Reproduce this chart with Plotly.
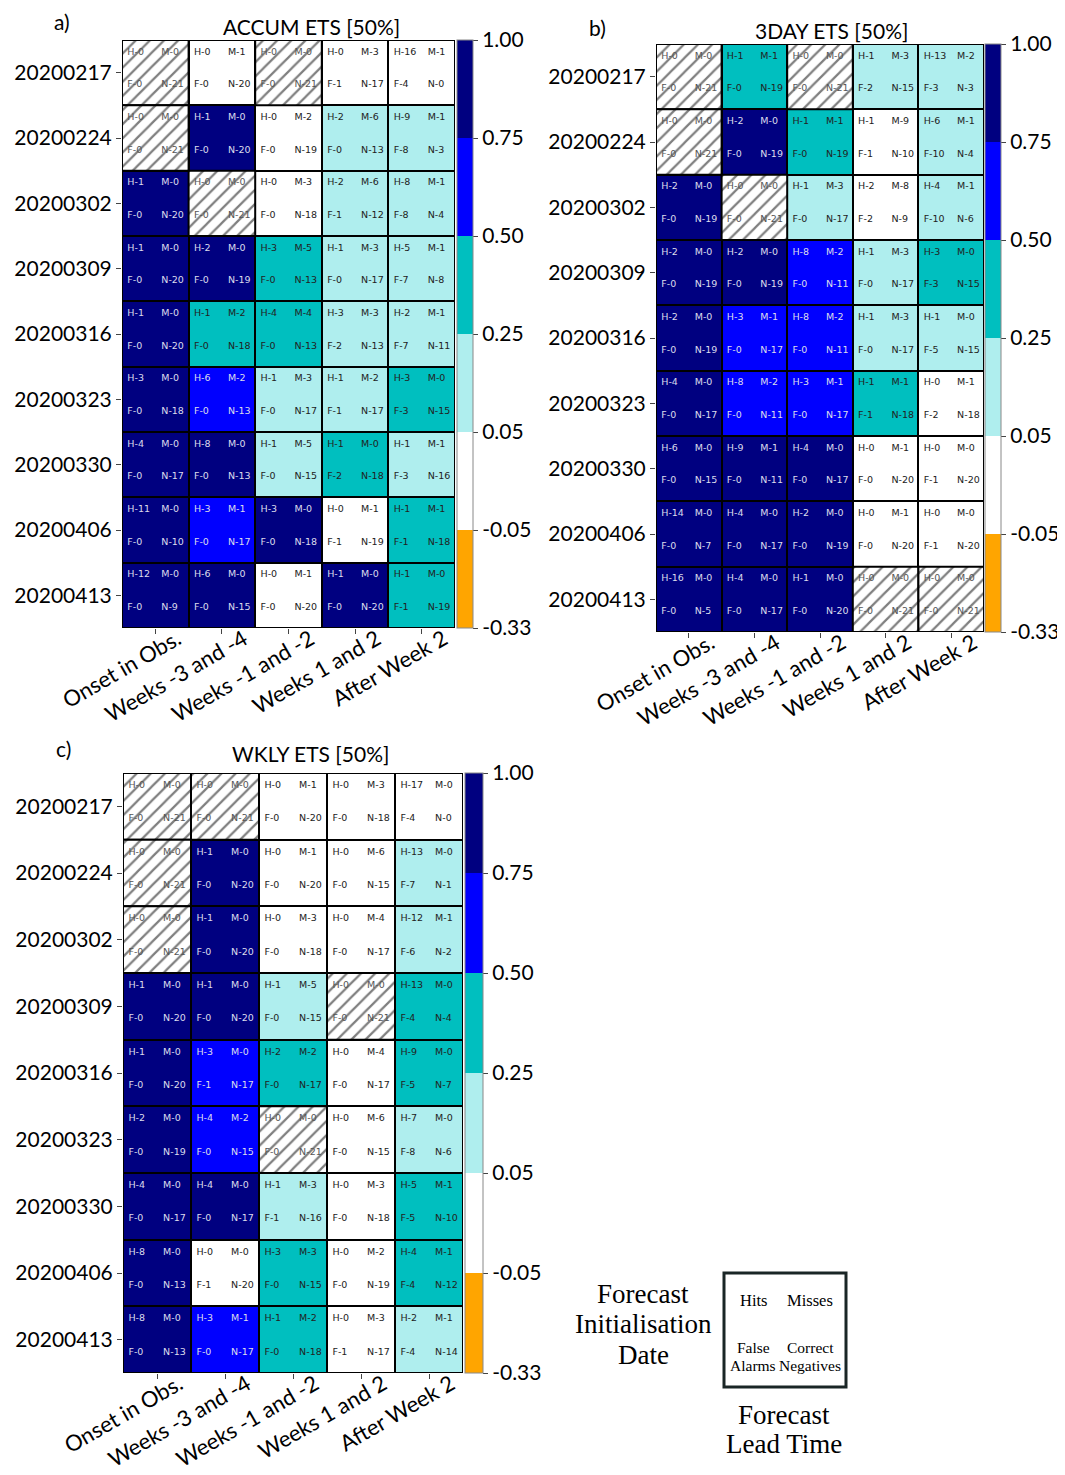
import numpy as np
import plotly.graph_objects as go

# ---------------- data ----------------
dates = ["20200217", "20200224", "20200302", "20200309", "20200316",
         "20200323", "20200330", "20200406", "20200413"]
lead_times = ["Onset in Obs.", "Weeks -3 and -4", "Weeks -1 and -2",
              "Weeks 1 and 2", "After Week 2"]
panel_titles = ["ACCUM ETS [50%]", "3DAY ETS [50%]", "WKLY ETS [50%]"]
panel_letters = ["a)", "b)", "c)"]
ets_bounds = [-0.33, -0.05, 0.05, 0.25, 0.50, 0.75, 1.00]
ets_colors = ["#ffa500", "#ffffff", "#afeeee", "#00bfbf", "#0000ff", "#000080"]

accum_hits = [[0, 0, 0, 0, 16], [0, 1, 0, 2, 9], [1, 0, 0, 2, 8], [1, 2, 3, 1, 5],
              [1, 1, 4, 3, 2], [3, 6, 1, 1, 3], [4, 8, 1, 1, 1], [11, 3, 3, 0, 1],
              [12, 6, 0, 1, 1]]
accum_misses = [[0, 1, 0, 3, 1], [0, 0, 2, 6, 1], [0, 0, 3, 6, 1], [0, 0, 5, 3, 1],
                [0, 2, 4, 3, 1], [0, 2, 3, 2, 0], [0, 0, 5, 0, 1], [0, 1, 0, 1, 1],
                [0, 0, 1, 0, 0]]
accum_false = [[0, 0, 0, 1, 4], [0, 0, 0, 0, 8], [0, 0, 0, 1, 8], [0, 0, 0, 0, 7],
               [0, 0, 0, 2, 7], [0, 0, 0, 1, 3], [0, 0, 0, 2, 3], [0, 0, 0, 1, 1],
               [0, 0, 0, 0, 1]]
accum_neg = [[21, 20, 21, 17, 0], [21, 20, 19, 13, 3], [20, 21, 18, 12, 4],
             [20, 19, 13, 17, 8], [20, 18, 13, 13, 11], [18, 13, 17, 17, 15],
             [17, 13, 15, 18, 16], [10, 17, 18, 19, 18], [9, 15, 20, 20, 19]]

threeday_hits = [[0, 1, 0, 1, 13], [0, 2, 1, 1, 6], [2, 0, 1, 2, 4], [2, 2, 8, 1, 3],
                 [2, 3, 8, 1, 1], [4, 8, 3, 1, 0], [6, 9, 4, 0, 0], [14, 4, 2, 0, 0],
                 [16, 4, 1, 0, 0]]
threeday_misses = [[0, 1, 0, 3, 2], [0, 0, 1, 9, 1], [0, 0, 3, 8, 1], [0, 0, 2, 3, 0],
                   [0, 1, 2, 3, 0], [0, 2, 1, 1, 1], [0, 1, 0, 1, 0], [0, 0, 0, 1, 0],
                   [0, 0, 0, 0, 0]]
threeday_false = [[0, 0, 0, 2, 3], [0, 0, 0, 1, 10], [0, 0, 0, 2, 10], [0, 0, 0, 0, 3],
                  [0, 0, 0, 0, 5], [0, 0, 0, 1, 2], [0, 0, 0, 0, 1], [0, 0, 0, 0, 1],
                  [0, 0, 0, 0, 0]]
threeday_neg = [[21, 19, 21, 15, 3], [21, 19, 19, 10, 4], [19, 21, 17, 9, 6],
                [19, 19, 11, 17, 15], [19, 17, 11, 17, 15], [17, 11, 17, 18, 18],
                [15, 11, 17, 20, 20], [7, 17, 19, 20, 20], [5, 17, 20, 21, 21]]

wkly_hits = [[0, 0, 0, 0, 17], [0, 1, 0, 0, 13], [0, 1, 0, 0, 12], [1, 1, 1, 0, 13],
             [1, 3, 2, 0, 9], [2, 4, 0, 0, 7], [4, 4, 1, 0, 5], [8, 0, 3, 0, 4],
             [8, 3, 1, 0, 2]]
wkly_misses = [[0, 0, 1, 3, 0], [0, 0, 1, 6, 0], [0, 0, 3, 4, 1], [0, 0, 5, 0, 0],
               [0, 0, 2, 4, 0], [0, 2, 0, 6, 0], [0, 0, 3, 3, 1], [0, 0, 3, 2, 1],
               [0, 1, 2, 3, 1]]
wkly_false = [[0, 0, 0, 0, 4], [0, 0, 0, 0, 7], [0, 0, 0, 0, 6], [0, 0, 0, 0, 4],
              [0, 1, 0, 0, 5], [0, 0, 0, 0, 8], [0, 0, 1, 0, 5], [0, 1, 0, 0, 4],
              [0, 0, 0, 1, 4]]
wkly_neg = [[21, 21, 20, 18, 0], [21, 20, 20, 15, 1], [21, 20, 18, 17, 2],
            [20, 20, 15, 21, 4], [20, 17, 17, 17, 7], [19, 15, 21, 15, 6],
            [17, 17, 16, 18, 10], [13, 20, 15, 19, 12], [13, 17, 18, 17, 14]]

panels_data = [
    (accum_hits, accum_misses, accum_false, accum_neg),
    (threeday_hits, threeday_misses, threeday_false, threeday_neg),
    (wkly_hits, wkly_misses, wkly_false, wkly_neg),
]

# ---------------- layout geometry (page pixels; page body has an 8px margin) ----------------
OFF = 8
W, Hh = 1065 - OFF, 1475 - OFF
def px(x): return (x - OFF) / W
def py(y): return 1 - (y - OFF) / Hh

geom = [
    dict(box=(122, 455, 40, 628), cb=(457, 16), title=(311, 26), letter=(62, 22)),
    dict(box=(656, 984, 44, 632), cb=(985, 16), title=(831, 30), letter=(597, 28)),
    dict(box=(123, 463, 773, 1373), cb=(465, 18), title=(310, 753), letter=(63, 748)),
]

ncat = len(ets_colors)
colorscale = []
for i, c in enumerate(ets_colors):
    colorscale.append([i / ncat, c])
    colorscale.append([(i + 1) / ncat, c])


def ets(h, m, f, n):
    h, m, f, n = (np.array(a, dtype=float) for a in (h, m, f, n))
    tot = h + m + f + n
    hr = (h + m) * (h + f) / tot
    den = h + m + f - hr
    with np.errstate(divide="ignore", invalid="ignore"):
        e = np.where(h + m + f == 0, np.nan, (h - hr) / den)
    return e


fig = go.Figure()
layout_updates = {}
shapes = []
annotations = []
tick_font = dict(family="Lato", size=21, color="black")
xtick_font = dict(family="Lato", size=22, color="black")

for p, (hits, misses, falses, negs) in enumerate(panels_data):
    sfx = "" if p == 0 else str(p + 1)
    xa, ya = "x" + sfx, "y" + sfx
    g = geom[p]
    l, r, t, b = g["box"]

    e = ets(hits, misses, falses, negs)
    cat = np.digitize(e, ets_bounds[1:-1]).astype(float)
    cat[np.isnan(e)] = np.nan
    z = cat + 0.5

    fig.add_trace(go.Heatmap(
        z=z, x=list(range(5)), y=list(range(9)), coloraxis="coloraxis" + sfx,
        xgap=2, ygap=2, xaxis=xa, yaxis=ya, hoverinfo="skip"))

    hx, hb = [], []
    for i in range(9):
        for j in range(5):
            if np.isnan(e[i][j]):
                hx.append(j)
                hb.append(i - 0.5)
    if hx:
        fig.add_trace(go.Bar(
            x=hx, y=[1] * len(hx), base=hb, width=1, xaxis=xa, yaxis=ya,
            marker=dict(color="white", line=dict(color="black", width=2),
                        pattern=dict(shape="/", fgcolor="#000000", bgcolor="white",
                                     size=10, solidity=0.22)),
            showlegend=False, hoverinfo="skip"))

    tx, ty, tt, tc = [], [], [], []
    for i in range(9):
        for j in range(5):
            if np.isnan(e[i][j]):
                col = "#555555"
            elif cat[i][j] >= 4:
                col = "#dcdcec"
            else:
                col = "#222222"
            items = [(j - 0.42, i - 0.31, f"H-{hits[i][j]}"),
                     (j + 0.09, i - 0.31, f"M-{misses[i][j]}"),
                     (j - 0.42, i + 0.19, f"F-{falses[i][j]}"),
                     (j + 0.09, i + 0.19, f"N-{negs[i][j]}")]
            for (xx, yy, s) in items:
                tx.append(xx); ty.append(yy); tt.append(s); tc.append(col)
    fig.add_trace(go.Scatter(
        x=tx, y=ty, text=tt, mode="text", textposition="middle right",
        textfont=dict(family="DejaVu Sans", size=9.5, color=tc),
        xaxis=xa, yaxis=ya, showlegend=False, hoverinfo="skip"))

    layout_updates["xaxis" + sfx] = dict(
        domain=[px(l), px(r)], range=[-0.5, 4.5], anchor=ya, automargin=False,
        tickvals=list(range(5)), ticktext=lead_times, tickangle=-30,
        ticklabelshift=22, ticklabelstandoff=-16,
        ticks="outside", ticklen=5, tickcolor="#444", showgrid=False,
        zeroline=False, showline=False, tickfont=xtick_font, fixedrange=True)
    layout_updates["yaxis" + sfx] = dict(
        domain=[py(b), py(t)], range=[8.5, -0.5], anchor=xa, automargin=False,
        tickvals=list(range(9)), ticktext=dates,
        ticks="outside", ticklen=5, tickcolor="#444", showgrid=False,
        zeroline=False, showline=False, tickfont=tick_font, fixedrange=True)

    cbl, cbt = g["cb"]
    layout_updates["coloraxis" + sfx] = dict(
        cmin=0, cmax=ncat, colorscale=colorscale,
        colorbar=dict(
            x=px(cbl), xanchor="left", xref="paper", xpad=0, ypad=0,
            y=py((t + b) / 2), yanchor="middle", len=(b - t) / Hh, lenmode="fraction",
            thickness=cbt, thicknessmode="pixels",
            tickvals=list(range(ncat + 1)),
            ticktext=[f"{v:.2f}" for v in ets_bounds],
            ticks="outside", ticklen=5, tickcolor="#444",
            outlinewidth=1, outlinecolor="#888",
            tickfont=tick_font))

    shapes.append(dict(type="rect", xref=xa, yref=ya, x0=-0.5, x1=4.5, y0=-0.5, y1=8.5,
                       line=dict(color="black", width=2), layer="above"))

    annotations.append(dict(text=panel_titles[p], x=px(g["title"][0]), y=py(g["title"][1]),
                            xref="paper", yref="paper", showarrow=False,
                            font=dict(family="Lato", size=21, color="black"),
                            xanchor="center", yanchor="middle"))
    annotations.append(dict(text=panel_letters[p], x=px(g["letter"][0]), y=py(g["letter"][1]),
                            xref="paper", yref="paper", showarrow=False,
                            font=dict(family="Lato", size=21, color="black"),
                            xanchor="center", yanchor="middle"))

# ---------------- explanatory key ----------------
serif = "Liberation Serif"
shapes.append(dict(type="rect", xref="paper", yref="paper",
                   x0=px(724), x1=px(846), y0=py(1387), y1=py(1273),
                   line=dict(color="#1a2626", width=3)))
key_texts = [
    ("Hits", 754, 1300, 16.5), ("Misses", 810, 1300, 16.5),
    ("False", 753, 1347, 15.5), ("Alarms", 753, 1365, 15.5),
    ("Correct", 810, 1347, 15.5), ("Negatives", 810, 1365, 15.5),
    ("Forecast", 643, 1294, 27), ("Initialisation", 643, 1324, 27), ("Date", 643, 1355, 27),
    ("Forecast", 784, 1415, 27), ("Lead Time", 784, 1444, 27),
]
for s, xx, yy, fs in key_texts:
    annotations.append(dict(text=s, x=px(xx), y=py(yy), xref="paper", yref="paper",
                            showarrow=False, xanchor="center", yanchor="middle",
                            font=dict(family=serif, size=fs, color="black")))

fig.update_layout(
    width=W, height=Hh, margin=dict(l=0, r=0, t=0, b=0, autoexpand=False),
    paper_bgcolor="white", plot_bgcolor="black",
    barmode="overlay", showlegend=False,
    shapes=shapes, annotations=annotations,
    **layout_updates)

fig.write_html("out.html")
